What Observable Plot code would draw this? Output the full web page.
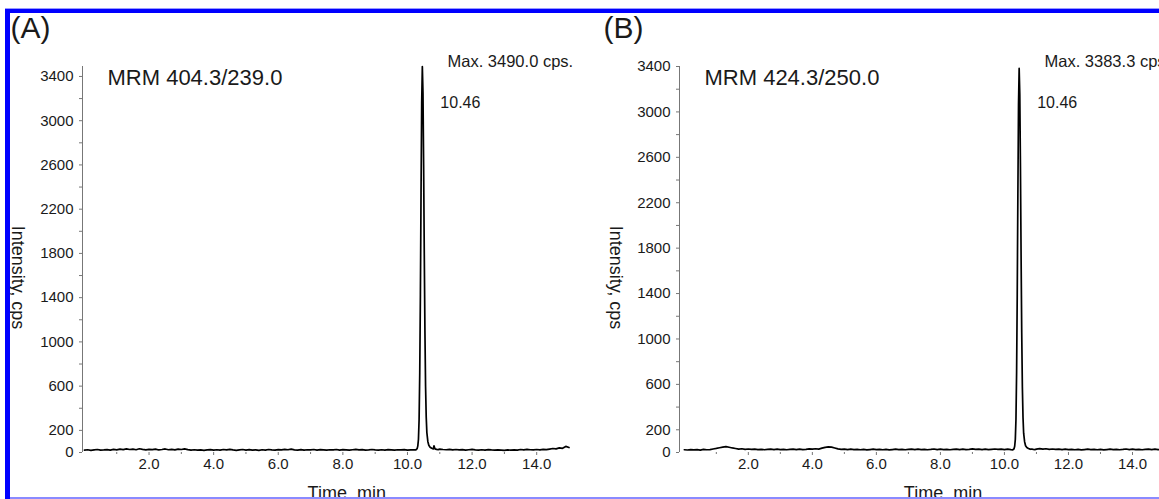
<!DOCTYPE html>
<html>
<head>
<meta charset="utf-8">
<script src="https://cdn.jsdelivr.net/npm/d3@7"></script>
<script src="https://cdn.jsdelivr.net/npm/@observablehq/plot@0.6"></script>
<style>
  html, body { margin: 0; padding: 0; background: #fff; }
  #fig { position: relative; width: 1159px; height: 499px; overflow: hidden; background: #fff; }
  .panel { position: absolute; top: 0; width: 597px; height: 499px; }
  .panel svg { max-width: none !important; display: block; }
  .deco { position: absolute; }
</style>
</head>
<body>
<div id="fig">
  <div id="pA" class="panel" style="left:0px"></div>
  <div id="pB" class="panel" style="left:597px"></div>
  <div class="deco" style="left:5px;top:8px;width:1154px;height:1px;background:#9a9aff"></div>
  <div class="deco" style="left:5px;top:9px;width:1154px;height:4px;background:#0000ff"></div>
  <div class="deco" style="left:5px;top:9px;width:5px;height:490px;background:#0000ff"></div>
  <div class="deco" style="left:10px;top:497px;width:1149px;height:2px;background:#8a8aff"></div>
</div>
<script>
// Retention time (min), shared by both chromatograms
const times = [
  0.0,0.1,0.2,0.3,0.4,0.5,0.6,0.7,0.8,0.9,
  1.0,1.1,1.2,1.3,1.4,1.5,1.6,1.7,1.8,1.9,
  2.0,2.1,2.2,2.3,2.4,2.5,2.6,2.7,2.8,2.9,
  3.0,3.1,3.2,3.3,3.4,3.5,3.6,3.7,3.8,3.9,
  4.0,4.1,4.2,4.3,4.4,4.5,4.6,4.7,4.8,4.9,
  5.0,5.1,5.2,5.3,5.4,5.5,5.6,5.7,5.8,5.9,
  6.0,6.1,6.2,6.3,6.4,6.5,6.6,6.7,6.8,6.9,
  7.0,7.1,7.2,7.3,7.4,7.5,7.6,7.7,7.8,7.9,
  8.0,8.1,8.2,8.3,8.4,8.5,8.6,8.7,8.8,8.9,
  9.0,9.1,9.2,9.3,9.4,9.5,9.6,9.7,9.8,9.9,
  10.0,10.1,10.2,
  10.26,10.30,10.32,10.34,10.36,10.38,10.40,10.42,10.44,10.46,
  10.48,10.50,10.52,10.54,10.56,10.58,10.60,10.63,10.66,10.70,
  10.75,10.80,10.82,10.85,10.90,10.95,
  11.0,11.1,11.2,11.3,11.4,11.5,11.6,11.7,11.8,11.9,
  12.0,12.1,12.2,12.3,12.4,12.5,12.6,12.7,12.8,12.9,
  13.0,13.1,13.2,13.3,13.4,13.5,13.6,13.7,13.8,13.9,
  14.0,14.1,14.2,14.3,14.4,14.5,14.6,14.7,14.8,14.9,
  15.0
];

// (A) MRM 404.3/239.0 intensity, cps
const intensityA = [
  22,25,20,24,27,21,23,26,22,28,
  24,30,26,33,27,31,25,34,28,24,
  29,26,31,23,27,32,25,29,24,30,
  27,33,26,22,25,21,24,20,23,26,
  22,25,21,27,24,29,23,20,24,27,
  22,26,21,24,20,25,22,27,23,21,
  26,24,28,25,31,24,22,26,21,25,
  23,27,22,26,24,21,25,23,27,22,
  26,24,21,25,28,23,26,22,24,27,
  23,21,25,22,26,24,21,25,23,26,
  22,24,23,
  24,35,60,120,300,720,1430,2350,3160,3490,
  3250,2600,1800,1100,600,320,180,100,65,48,
  38,32,60,33,28,26,
  30,27,25,29,24,27,23,26,22,25,
  28,24,21,25,22,26,23,21,24,22,
  20,23,21,24,22,27,24,29,25,23,
  27,24,28,26,31,36,33,42,38,55,
  45
];

// (B) MRM 424.3/250.0 intensity, cps
const intensityB = [
  24,22,26,23,25,21,27,24,26,31,
  36,42,47,52,46,40,35,30,33,28,
  31,27,29,25,28,24,27,30,26,29,
  25,28,24,27,30,26,29,25,28,32,
  29,33,30,38,45,50,47,40,32,27,
  30,26,29,25,28,24,27,23,26,29,
  25,28,24,27,23,26,29,25,28,24,
  27,30,26,29,25,28,24,27,31,26,
  29,25,28,24,27,30,26,29,25,28,
  32,27,30,26,29,25,28,31,27,30,
  26,29,25,
  23,33,55,115,290,700,1390,2280,3070,3383.3,
  3150,2520,1740,1060,580,310,170,95,60,44,
  35,30,28,31,27,25,
  30,34,29,33,28,31,27,30,26,29,
  25,28,24,27,23,26,29,25,28,24,
  27,23,26,29,25,28,24,27,31,26,
  29,25,28,24,27,30,26,29,25,28,
  26
];

const yTickLabels = [0, 200, 600, 1000, 1400, 1800, 2200, 2600, 3000, 3400];
const yMinorTicks = [400, 800, 1200, 1600, 2000, 2400, 2800, 3200];
const xTickLabels = [2, 4, 6, 8, 10, 12, 14];
const xMinorTicks = [1, 3, 5, 7, 9, 11, 13];

const panelLetters = ["(A)", "(B)"];
const transitions = ["MRM 404.3/239.0", "MRM 424.3/250.0"];
const maxLabels = ["Max. 3490.0 cps.", "Max. 3383.3 cps."];
const peakRT = [10.46, 10.46];

const FONT = "'Liberation Sans', Arial, Helvetica, sans-serif";

function panel(i, values, xDomain, yDomain, marginRight, letterDx, ylabDx) {
  const data = times.map((t, k) => ({ t, v: values[k] }));
  const svg = Plot.plot({
    width: 597,
    height: 499,
    marginLeft: 82,
    marginRight,
    marginTop: 66,
    marginBottom: 47,
    style: { fontFamily: FONT, fontSize: "15px", color: "#1a1a1a", background: "transparent", overflow: "visible" },
    x: { domain: xDomain },
    y: { domain: yDomain },
    marks: [
      Plot.ruleX([xDomain[0]], { y1: 0, y2: yDomain[1], stroke: "#777", strokeWidth: 1 }),
      Plot.axisY({ ticks: yMinorTicks, tickSize: 3, tickFormat: () => "", label: null, stroke: "#777" }),
      Plot.axisY({ ticks: yTickLabels, tickSize: 3, tickPadding: 6, tickFormat: d => String(d), label: null, stroke: "#777", fill: "#1a1a1a", fontSize: 15 }),
      Plot.axisX({ ticks: xMinorTicks, tickSize: 2, tickFormat: () => "", label: null, stroke: "#777" }),
      Plot.axisX({ ticks: xTickLabels, tickSize: 3, tickPadding: 3, tickFormat: d => d.toFixed(1), label: null, stroke: "#777", fill: "#1a1a1a", fontSize: 15 }),
      Plot.line(data, { x: "t", y: "v", stroke: "#000", strokeWidth: 1.7 }),
      Plot.text([transitions[i]], { frameAnchor: "top-left", dx: 25, dy: 18, textAnchor: "start", lineAnchor: "bottom", fontSize: 22, fill: "#1a1a1a" }),
      Plot.text([maxLabels[i]], { frameAnchor: "top-left", dx: 365, dy: 0, textAnchor: "start", lineAnchor: "bottom", fontSize: 16.5, fill: "#1a1a1a" }),
      Plot.text([peakRT[i]], { x: d => d, frameAnchor: "top", text: d => d.toFixed(2), dx: 18, dy: 41, textAnchor: "start", lineAnchor: "bottom", fontSize: 16, fill: "#1a1a1a" }),
      Plot.text([panelLetters[i]], { frameAnchor: "top-left", dx: letterDx, dy: -29, textAnchor: "start", lineAnchor: "bottom", fontSize: 30, fill: "#1a1a1a" }),
      Plot.text(["Intensity, cps"], { frameAnchor: "left", dx: ylabDx, dy: 18, rotate: 90, textAnchor: "middle", lineAnchor: "middle", fontSize: 18, fill: "#1a1a1a" }),
      Plot.text(["Time, min"], { frameAnchor: "bottom", dx: 21, dy: 46, textAnchor: "middle", lineAnchor: "bottom", fontSize: 18, fill: "#1a1a1a" })
    ]
  });
  svg.style.maxWidth = "none";
  return svg;
}

document.getElementById("pA").appendChild(panel(0, intensityA, [-0.06, 15.0], [0, 3490], 28.5, -72, -65));
document.getElementById("pB").appendChild(panel(1, intensityB, [-0.15, 15.0], [0, 3400], 30, -76, -64));
</script>
</body>
</html>
